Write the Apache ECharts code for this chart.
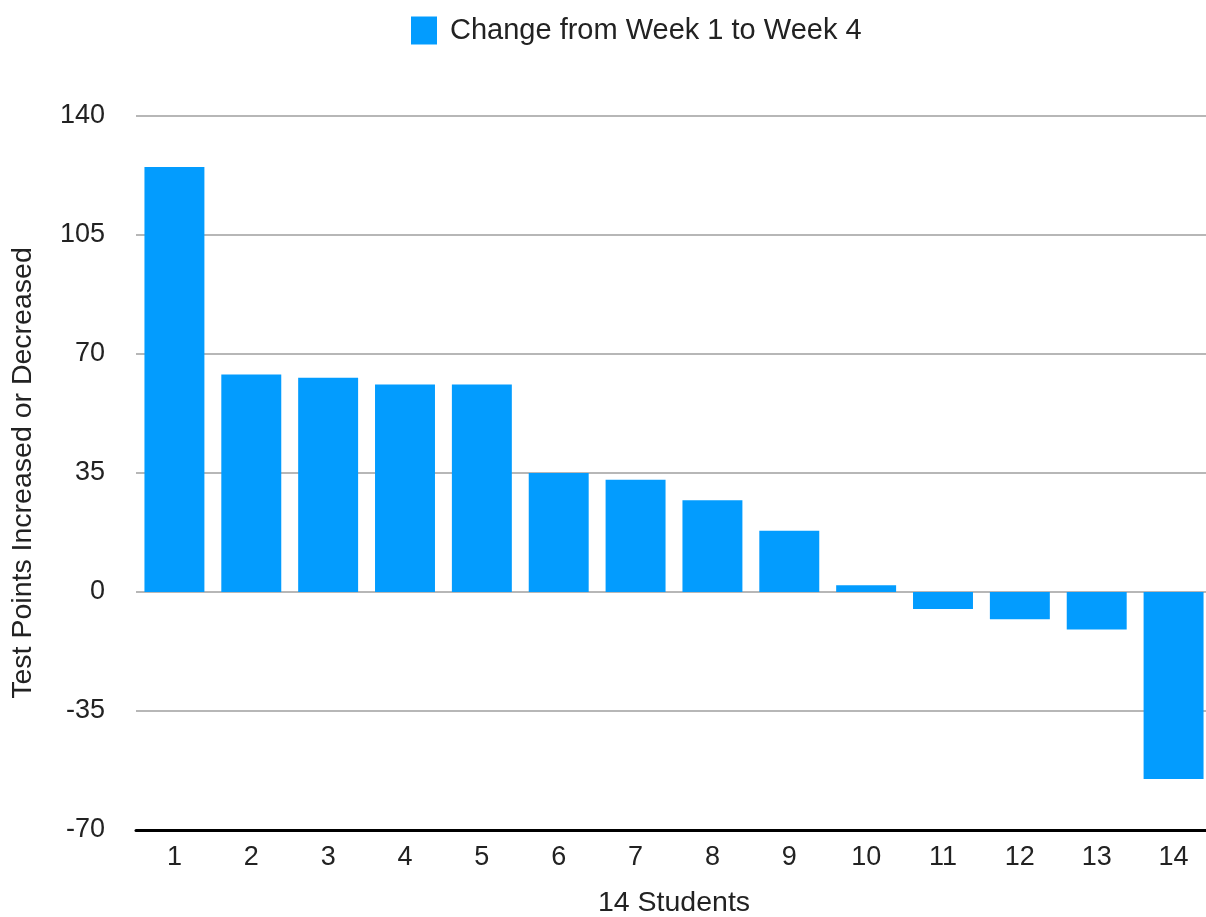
<!DOCTYPE html>
<html>
<head>
<meta charset="utf-8">
<script src="https://cdn.jsdelivr.net/npm/echarts@6/dist/echarts.min.js"></script>
<style>
html,body{margin:0;padding:0;background:#fff;}
#chart{width:1206px;height:917px;}
</style>
</head>
<body>
<div id="chart"></div>
<script>
const categories = ['1','2','3','4','5','6','7','8','9','10','11','12','13','14'];
const seriesName = 'Change from Week 1 to Week 4';
const changeValues = [125, 64, 63, 61, 61, 35, 33, 27, 18, 2, -5, -8, -11, -55];
const yTicks = { min: -70, max: 140, interval: 35 };
const xAxisTitle = '14 Students';
const yAxisTitle = 'Test Points Increased or Decreased';

const FONT = 'Liberation Sans, Arial, sans-serif';
const chart = echarts.init(document.getElementById('chart'));
chart.setOption({
  animation: false,
  backgroundColor: '#ffffff',
  textStyle: { fontFamily: FONT },
  legend: {
    data: [seriesName],
    left: 406,
    top: 11,
    itemWidth: 26,
    itemHeight: 28,
    itemGap: 10,
    icon: 'rect',
    textStyle: { fontSize: 29, color: '#222222', fontFamily: FONT, padding: [0,0,0,8] }
  },
  grid: { left: 136, right: -6, top: 116, bottom: 87, containLabel: false, outerBoundsMode: 'none' },
  xAxis: {
    type: 'category',
    data: categories,
    name: xAxisTitle,
    nameLocation: 'middle',
    nameGap: 59,
    nameTextStyle: { fontSize: 28.5, color: '#222222', fontFamily: FONT },
    axisLine: { onZero: false, lineStyle: { color: '#000000', width: 3 } },
    axisTick: { show: false },
    axisLabel: { fontSize: 27, color: '#222222', margin: 14, fontFamily: FONT }
  },
  yAxis: {
    type: 'value',
    min: yTicks.min,
    max: yTicks.max,
    interval: yTicks.interval,
    name: yAxisTitle,
    nameLocation: 'middle',
    nameGap: 98,
    nameTextStyle: { fontSize: 28.5, color: '#222222', fontFamily: FONT },
    axisLine: { show: false },
    axisTick: { show: false },
    axisLabel: { fontSize: 27, color: '#222222', margin: 31, fontFamily: FONT, padding: [4,0,0,0] },
    splitLine: { lineStyle: { color: '#b7b7b7', width: 2 } }
  },
  series: [{
    name: seriesName,
    type: 'bar',
    data: changeValues,
    barCategoryGap: '22%',
    itemStyle: { color: '#039cfe' }
  }]
});
</script>
</body>
</html>
